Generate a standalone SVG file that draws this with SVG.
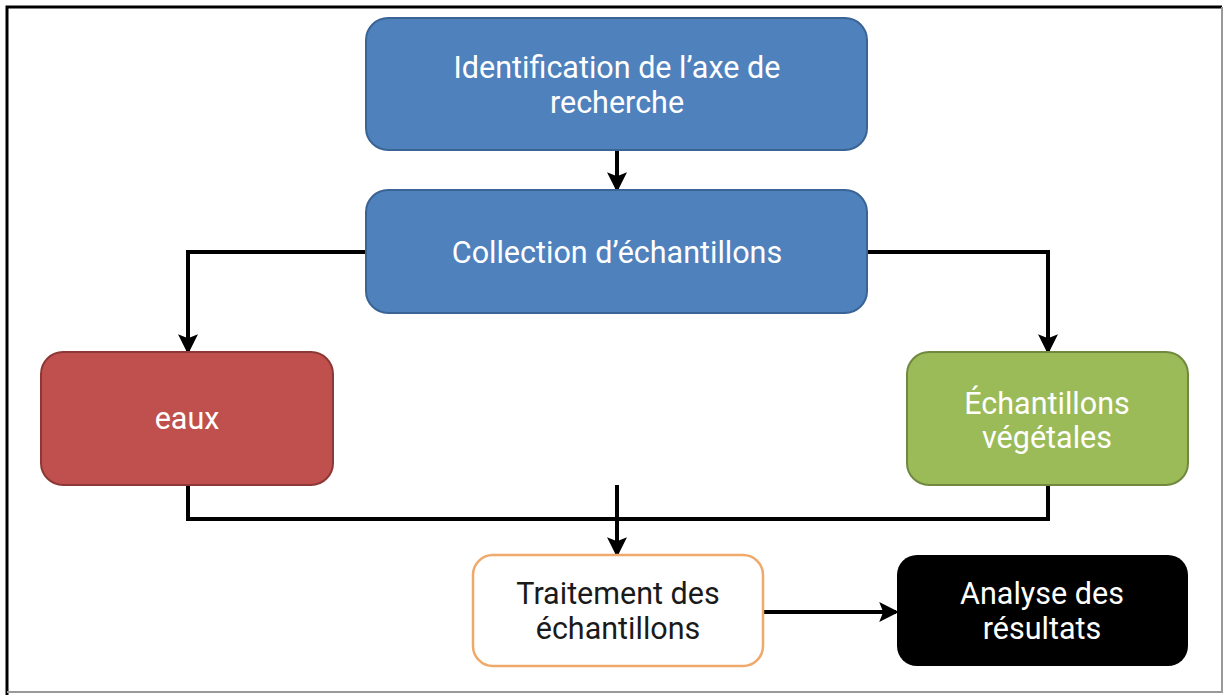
<svg xmlns="http://www.w3.org/2000/svg" width="1225" height="695" viewBox="0 0 1225 695">
<defs>
<marker id="ah" markerWidth="5" markerHeight="5" refX="4.2" refY="2.5" orient="auto" markerUnits="strokeWidth">
<path d="M0,0 L5,2.5 L0,5 L1,2.5 Z" fill="#000"/>
</marker>
<style>
.lbl{font-family:Roboto,"Liberation Sans",sans-serif;font-size:30.5px;text-anchor:middle;fill:#fff}
.dark{fill:#1a1a1a}
.con{fill:none;stroke:#000;stroke-width:4}
.arr{marker-end:url(#ah)}
</style>
</defs>
<rect x="0" y="0" width="1225" height="695" fill="#fff"/>
<path d="M7,695 L7,7 L1222,7" fill="none" stroke="#000" stroke-width="3"/>
<path d="M1222,7 L1222,692 L7,692" fill="none" stroke="#999" stroke-width="2"/>
<g id="connectors">
<path class="con arr" d="M617,150 L617,189"/>
<path class="con arr" d="M366,252 L188,252 L188,351"/>
<path class="con arr" d="M867,252 L1048,252 L1048,351"/>
<path class="con" d="M188,485 L188,519 L1048,519 L1048,485"/>
<path class="con arr" d="M617,485 L617,554"/>
<path class="con arr" d="M763,612 L896,612"/>
</g>
<g id="n1">
<rect x="366" y="18" width="501" height="132" rx="22" fill="#4F81BD" stroke="#3B6496" stroke-width="2"/>
<text class="lbl" x="617" y="78">Identification de l’axe de</text>
<text class="lbl" x="617" y="113">recherche</text>
</g>
<g id="n2">
<rect x="366" y="190" width="501" height="123" rx="22" fill="#4F81BD" stroke="#3B6496" stroke-width="2"/>
<text class="lbl" x="617" y="263">Collection d’échantillons</text>
</g>
<g id="n3">
<rect x="41" y="352" width="292" height="133" rx="22" fill="#C0504D" stroke="#8C3836" stroke-width="2"/>
<text class="lbl" x="187" y="429">eaux</text>
</g>
<g id="n4">
<rect x="907" y="352" width="281" height="133" rx="22" fill="#9BBB59" stroke="#71893F" stroke-width="2"/>
<text class="lbl" x="1047" y="414">Échantillons</text>
<text class="lbl" x="1047" y="448">végétales</text>
</g>
<g id="n5">
<rect x="473" y="555" width="290" height="111" rx="20" fill="#fff" stroke="#EFA96A" stroke-width="2.5"/>
<text class="lbl dark" x="618" y="604">Traitement des</text>
<text class="lbl dark" x="618" y="639">échantillons</text>
</g>
<g id="n6">
<rect x="897" y="555" width="291" height="111" rx="20" fill="#000"/>
<text class="lbl" x="1042" y="604">Analyse des</text>
<text class="lbl" x="1042" y="639">résultats</text>
</g>
</svg>
